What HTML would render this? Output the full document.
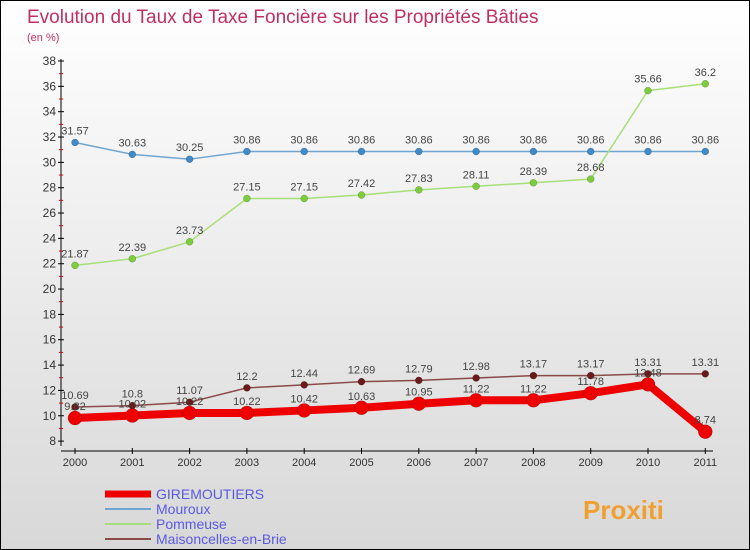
<!DOCTYPE html>
<html><head><meta charset="utf-8">
<style>
body{margin:0}
#wrap{width:748px;height:548px;border:1px solid #000;background:linear-gradient(#fff,#d8d8d8);position:relative;overflow:hidden;font-family:"Liberation Sans",sans-serif}
</style></head><body>
<div id="wrap">
<svg id="chart" width="748" height="548"></svg>
</div>
<script>
const years=["2000","2001","2002","2003","2004","2005","2006","2007","2008","2009","2010","2011"];
const gire=[9.82,10.02,10.22,10.22,10.42,10.63,10.95,11.22,11.22,11.78,12.48,8.74];
const mouroux=[31.57,30.63,30.25,30.86,30.86,30.86,30.86,30.86,30.86,30.86,30.86,30.86];
const pommeuse=[21.87,22.39,23.73,27.15,27.15,27.42,27.83,28.11,28.39,28.68,35.66,36.2];
const maison=[10.69,10.8,11.07,12.2,12.44,12.69,12.79,12.98,13.17,13.17,13.31,13.31];
const yTicks=[8,10,12,14,16,18,20,22,24,26,28,30,32,34,36,38];
const svg=document.getElementById('chart');
const NS='http://www.w3.org/2000/svg';
function X(i){return 74+i*57.3;}
function Y(v){return 60+(38-v)*12.67;}
function mk(t,a,p){const e=document.createElementNS(NS,t);for(const k in a)e.setAttribute(k,a[k]);(p||svg).appendChild(e);return e;}
function txt(x,y,s,a){const e=mk('text',Object.assign({x:x,y:y},a));e.textContent=s;return e;}
let t=txt(26,22,'Evolution du Taux de Taxe Foncière sur les Propriétés Bâties',{fill:'#c0305f','font-size':19});

t=txt(26,40,'(en %)',{fill:'#c0305f','font-size':11});

// axes
let ax=mk('line',{x1:60,y1:58,x2:60,y2:445,stroke:'#000'});

ax=mk('line',{x1:60,y1:450,x2:712,y2:450,stroke:'#000'});

yTicks.forEach(v=>{
 mk('line',{x1:57,y1:Y(v),x2:63,y2:Y(v),stroke:'#000'});
 if(v<38)mk('line',{x1:58,y1:Y(v+1),x2:62,y2:Y(v+1),stroke:'#e00'});
 const l=txt(55,Y(v)+4,String(v),{fill:'#333','font-size':12,'text-anchor':'end'});
 
});
years.forEach((y,i)=>{
 mk('line',{x1:X(i),y1:447,x2:X(i),y2:453,stroke:'#000'});
 const l=txt(X(i),465,y,{fill:'#333','font-size':11,'text-anchor':'middle'});
 
});
function series(d,color,w,r,name,lc){
 const g=mk('g',{});
 
 mk('polyline',{points:d.map((v,i)=>X(i)+','+Y(v)).join(' '),fill:'none',stroke:color,'stroke-width':w,'stroke-linejoin':'round'},g);
 d.forEach((v,i)=>{
  const c=mk('circle',{cx:X(i),cy:Y(v),r:r,fill:lc,stroke:'rgba(0,0,0,0.3)','stroke-width':0.5},g);
  
  const l=txt(X(i),Y(v)-8,String(v),{fill:'#444','font-size':11,'text-anchor':'middle'},g);
  
 });
}
series(mouroux,'#6fa5d0',1.5,3.5,'mouroux-series','#3f8ac8');
series(pommeuse,'#a6e07a',1.5,3.5,'pommeuse-series','#7ccc3c');
series(maison,'#8a4a4a',1.5,3.5,'maisoncelles-series','#6a1a1a');
series(gire,'#ee0000',8,7,'giremoutiers-series','#ee0000');
// legend
const leg=[['GIREMOUTIERS','#ee0000',7,'#5a5ae0'],['Mouroux','#6fa5d0',2,'#5a5ae0'],['Pommeuse','#a6e07a',2,'#5a5ae0'],['Maisoncelles-en-Brie','#8a4a4a',2,'#5a5ae0']];
leg.forEach((e,i)=>{
 const g=mk('g',{});
 
 const y=493+i*15;
 mk('line',{x1:104,y1:y,x2:150,y2:y,stroke:e[1],'stroke-width':e[2]},g);
 txt(155,y+5,e[0],{fill:e[3],'font-size':14},g);
});
const lg=txt(582,518,'Proxiti',{'font-size':26,'font-weight':'bold',fill:'#f0a030'});

</script>
</body></html>
